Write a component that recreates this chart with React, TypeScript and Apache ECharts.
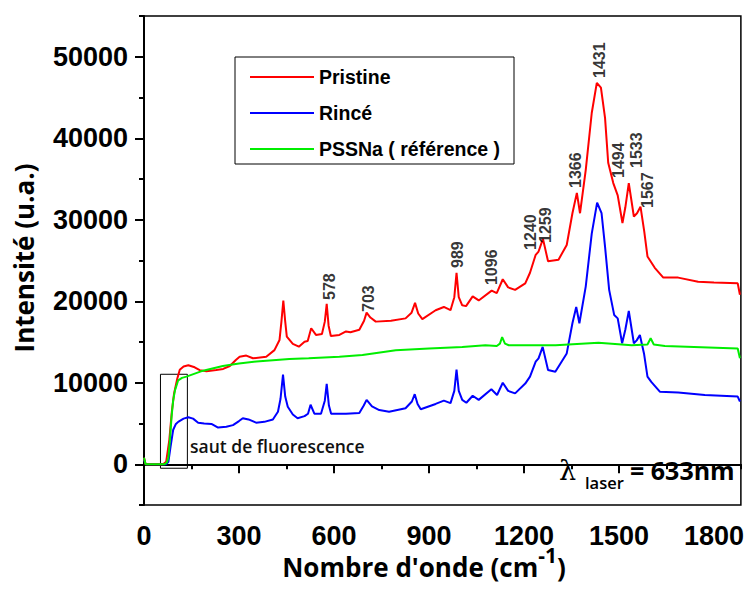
import React, { useEffect, useRef } from "react";
import * as echarts from "echarts";

// ---- data ----
const pristineX = [0, 5, 60, 70, 80, 88, 95, 105, 113, 125, 140, 160, 176, 197, 228, 250, 271, 290, 302, 323, 344, 386, 412, 428, 434, 440, 446, 451, 470, 489, 507, 517, 528, 543, 562, 571, 577, 583, 590, 617, 638, 652, 680, 695, 703, 715, 732, 780, 826, 845, 856, 866, 879, 921, 947, 968, 980, 987, 994, 1005, 1017, 1038, 1057, 1098, 1114, 1133, 1150, 1172, 1204, 1219, 1237, 1246, 1260, 1276, 1309, 1335, 1353, 1367, 1377, 1395, 1414, 1430, 1443, 1456, 1466, 1482, 1496, 1511, 1520, 1531, 1547, 1557, 1568, 1580, 1590, 1613, 1640, 1687, 1750, 1800, 1875, 1882];
const pristineY = [800, 0, 0, 300, 3000, 6500, 8700, 10500, 11600, 12000, 12150, 11900, 11550, 11400, 11570, 11700, 12060, 12800, 13200, 13330, 13000, 13200, 14000, 15250, 17500, 20070, 17500, 15650, 14760, 14430, 15040, 15130, 16690, 15870, 15990, 17500, 19670, 17000, 15740, 15870, 16300, 16200, 16500, 17600, 18600, 18000, 17500, 17600, 17900, 18600, 19800, 18500, 17800, 18900, 19300, 18900, 20500, 23500, 20500, 19500, 19400, 20600, 20100, 21300, 21000, 22700, 21700, 21400, 22200, 23500, 25700, 26100, 27650, 24900, 25100, 26900, 30800, 33300, 30800, 36100, 43100, 46800, 46200, 42500, 37000, 34500, 33000, 29600, 31500, 34500, 30400, 30800, 31600, 28500, 25500, 24100, 22900, 22900, 22400, 22300, 22200, 20800];

const rinceX = [0, 5, 70, 77, 84, 92, 100, 108, 125, 140, 155, 171, 190, 213, 234, 260, 281, 300, 312, 330, 354, 380, 407, 423, 431, 439, 446, 454, 470, 485, 507, 518, 526, 538, 559, 571, 577, 584, 591, 638, 680, 694, 703, 720, 743, 774, 826, 846, 855, 864, 874, 921, 947, 968, 980, 987, 994, 1005, 1018, 1038, 1057, 1097, 1115, 1133, 1150, 1172, 1204, 1219, 1237, 1246, 1259, 1276, 1299, 1335, 1353, 1365, 1375, 1395, 1414, 1431, 1445, 1456, 1469, 1485, 1496, 1510, 1520, 1531, 1547, 1556, 1566, 1579, 1590, 1602, 1629, 1687, 1771, 1875, 1882];
const rinceY = [600, 0, 0, 300, 2200, 4200, 4900, 5200, 5600, 5760, 5600, 5100, 5000, 4950, 4500, 4600, 4800, 5300, 5650, 5500, 5100, 5200, 5500, 6450, 8000, 11000, 8300, 7050, 6100, 5650, 5900, 6200, 7300, 6200, 6200, 7800, 9850, 7200, 6200, 6200, 6300, 7200, 7900, 7100, 6650, 6450, 6870, 7700, 8600, 7400, 6750, 7400, 7800, 7500, 9000, 11600, 9000, 7900, 7550, 8400, 7900, 9200, 8500, 10000, 9000, 8700, 9900, 10750, 12600, 13000, 14400, 11570, 11360, 13600, 17300, 19300, 17300, 21800, 28300, 32100, 30800, 26700, 21400, 18300, 17900, 14850, 16500, 18800, 14850, 15200, 15850, 13600, 10750, 10100, 8900, 8800, 8500, 8300, 7700];

const pssnaX = [0, 5, 65, 72, 77, 82, 87, 92, 98, 108, 120, 134, 180, 249, 300, 355, 459, 520, 617, 690, 795, 900, 1005, 1078, 1114, 1124, 1131, 1140, 1152, 1215, 1300, 1435, 1540, 1590, 1600, 1610, 1645, 1875, 1882];
const pssnaY = [800, 0, 0, 200, 800, 3000, 5800, 7800, 9100, 10300, 10600, 10750, 11400, 12060, 12350, 12600, 12900, 13000, 13200, 13400, 14000, 14200, 14400, 14600, 14500, 14800, 15600, 14800, 14600, 14600, 14600, 14900, 14600, 14700, 15450, 14700, 14500, 14200, 13000];

const peakNames = ["578", "703", "989", "1096", "1240", "1259", "1366", "1431", "1494", "1533", "1567"];
const peakLabelX = [585, 708, 991, 1098, 1220, 1267, 1362, 1440, 1500, 1555, 1590];
const peakLabelY = [20160, 18690, 24080, 21990, 26300, 27150, 33900, 47400, 35130, 36350, 31450];

const xTicks = [0, 300, 600, 900, 1200, 1500, 1800];
const yTicks = [0, 10000, 20000, 30000, 40000, 50000];
const seriesNames = ["Pristine", "Rincé", "PSSNa ( référence )"];
const seriesColors = ["#ff0000", "#0000ff", "#00ee00"];

const zip = (xs: number[], ys: number[]) => xs.map((x, i) => [x, ys[i]]);

export default function App() {
  const ref = useRef<HTMLDivElement>(null);
  useEffect(() => {
    if (!ref.current) return;
    const chart = echarts.init(ref.current, undefined, { renderer: "svg" });
    const tickFont = { fontSize: 27, fontWeight: "bold" as const, fontFamily: "Liberation Sans, Arial", color: "#000", formatter: (v: number) => String(v) };
    const lineSeries = (name: string, data: number[][], color: string, extra: any = {}) => ({
      type: "line",
      name,
      data,
      showSymbol: false,
      symbol: "none",
      lineStyle: { color, width: 2 },
      itemStyle: { color },
      ...extra,
    });
    chart.setOption({
      animation: false,
      backgroundColor: "#fff",
      grid: { left: 144, top: 16, right: 4, bottom: 84, show: true, borderColor: "#000", borderWidth: 1.5, backgroundColor: "transparent" },
      xAxis: [
        {
          type: "value", min: 0, max: 1885, position: "bottom",
          axisLine: { show: true, lineStyle: { color: "#000", width: 2 } },
          axisTick: { show: true, customValues: xTicks, length: 9, lineStyle: { color: "#000", width: 2 } },
          axisLabel: { show: true, customValues: xTicks, margin: 17, ...tickFont },
          splitLine: { show: false },
        },
        {
          type: "value", min: 0, max: 1885, interval: 150, position: "bottom", offset: 0,
          axisLine: { show: false },
          axisTick: { show: true, length: 5, lineStyle: { color: "#000", width: 2 } },
          axisLabel: { show: false },
          splitLine: { show: false },
        },
      ],
      yAxis: [
        {
          type: "value", min: -5000, max: 55000, position: "left",
          axisLine: { show: true, lineStyle: { color: "#000", width: 2 } },
          axisTick: { show: true, customValues: yTicks, length: 9, lineStyle: { color: "#000", width: 2 } },
          axisLabel: { show: true, customValues: yTicks, margin: 16, ...tickFont },
          splitLine: { show: false },
        },
        {
          type: "value", min: -5000, max: 55000, interval: 5000, position: "left", offset: 0,
          axisLine: { show: false },
          axisTick: { show: true, length: 5, lineStyle: { color: "#000", width: 2 } },
          axisLabel: { show: false },
          splitLine: { show: false },
        },
      ],
      legend: {
        data: seriesNames.map((n) => ({ name: n, icon: "rect" })),
        orient: "vertical",
        left: 250,
        top: 67,
        padding: 0,
        itemWidth: 64,
        itemHeight: 2,
        itemGap: 16,
        itemTextGap: 6,
        textStyle: { fontSize: 19.5, fontWeight: "bold", fontFamily: "Liberation Sans, Arial", color: "#000" },
        selectedMode: false,
      },
      series: [
        lineSeries(seriesNames[0], zip(pristineX, pristineY), seriesColors[0], { z: 3 }),
        lineSeries(seriesNames[1], zip(rinceX, rinceY), seriesColors[1], { z: 2 }),
        lineSeries(seriesNames[2], zip(pssnaX, pssnaY), seriesColors[2], {
          z: 4,
          markArea: {
            silent: true,
            itemStyle: { color: "rgba(0,0,0,0)", borderColor: "#000", borderWidth: 1 },
            data: [[{ coord: [52, -490] }, { coord: [137, 11040] }]],
          },
        }),
        {
          type: "scatter",
          name: "peaks",
          symbolSize: 0,
          silent: true,
          data: peakLabelX.map((x, i) => ({ value: [x, peakLabelY[i]], name: peakNames[i] })),
          label: {
            show: true,
            formatter: (p: any) => p.name,
            rotate: 90,
            position: [0, 0],
            align: "left",
            verticalAlign: "middle",
            fontSize: 16,
            fontWeight: "bold",
            fontFamily: "Liberation Sans, Arial",
            color: "#000",
          },
          z: 5,
        },
      ],
      graphic: [
        {
          type: "rect",
          shape: { x: 235, y: 57, width: 279, height: 107 },
          style: { fill: "none", stroke: "#000", lineWidth: 1 },
          silent: true,
        },
        {
          type: "text",
          x: 24,
          y: 258,
          rotation: Math.PI / 2,
          style: { text: "Intensité (u.a.)", fontSize: 26, fontWeight: "bold", fontFamily: "Open Sans", fill: "#000", align: "center", verticalAlign: "middle" },
        },
        {
          type: "text",
          x: 424,
          y: 562,
          style: {
            text: "{a|Nombre d'onde (cm}{b|-1}{a|)}",
            align: "center",
            verticalAlign: "middle",
            rich: {
              a: { fontSize: 26, fontWeight: "bold", fontFamily: "Open Sans", fill: "#000", lineHeight: 35, verticalAlign: "bottom" },
              b: { fontSize: 21, fontWeight: "bold", fontFamily: "Open Sans", fill: "#000", lineHeight: 20, verticalAlign: "top" },
            },
          },
        },
        {
          type: "text",
          x: 190,
          y: 446,
          style: { text: "saut de fluorescence", fontSize: 17.5, fontWeight: 600, fontFamily: "Open Sans", fill: "#111", align: "left", verticalAlign: "middle" },
        },
        {
          type: "text",
          x: 559,
          y: 470,
          style: { text: "λ", fontSize: 27, fontFamily: "DejaVu Serif", fill: "#000", align: "left", verticalAlign: "middle" },
        },
        {
          type: "text",
          x: 585,
          y: 482,
          style: { text: "laser", fontSize: 16.5, fontWeight: 600, fontFamily: "Open Sans", fill: "#000", align: "left", verticalAlign: "middle" },
        },
        {
          type: "text",
          x: 630,
          y: 470,
          style: { text: "= 633nm", fontSize: 25, fontWeight: "bold", fontFamily: "Open Sans", fill: "#000", align: "left", verticalAlign: "middle" },
        },
      ],
    });
    return () => chart.dispose();
  }, []);
  return <div ref={ref} style={{ position: "fixed", left: 0, top: 0, width: 747, height: 589, background: "#fff" }} />;
}
